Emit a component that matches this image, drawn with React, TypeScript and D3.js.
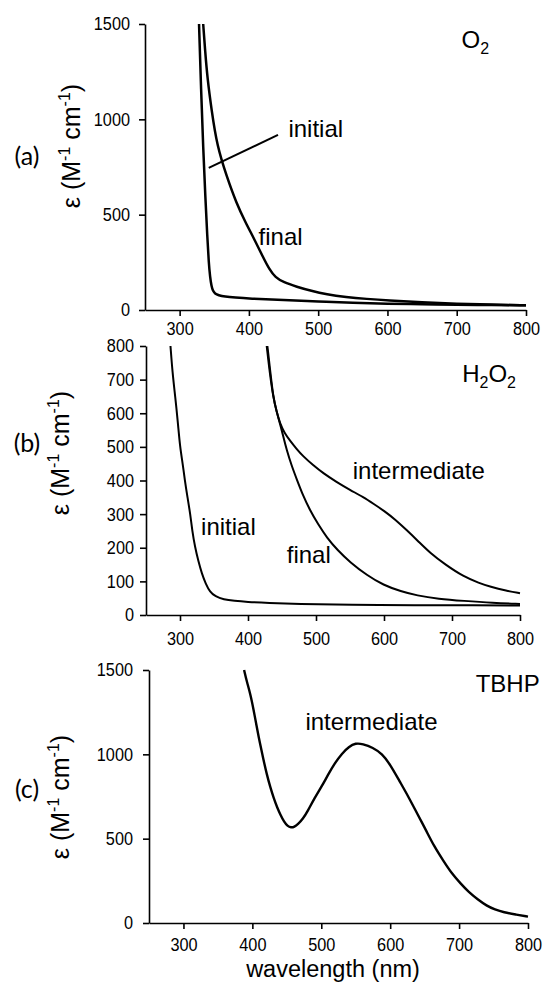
import React, { useEffect, useRef } from 'react';
import * as d3 from 'd3';

type Pt = [number, number];

// shared axis ticks
const wavelengthTicks = [300, 400, 500, 600, 700, 800];
const epsTicks1500 = [0, 500, 1000, 1500];
const epsTicks800 = [0, 100, 200, 300, 400, 500, 600, 700, 800];

// (a) O2 — [wavelength nm, epsilon]
const o2Initial: Pt[] = [
    [328, 1500], [331, 1150], [334, 850], [337, 600], [340, 380], [342, 250], [344, 170],
    [346, 125], [348, 100], [351, 86], [356, 77], [365, 70], [380, 65], [400, 60], [450, 52],
    [500, 45], [550, 38], [600, 33], [650, 30], [700, 28], [750, 26], [800, 25],
];
const o2Final: Pt[] = [
    [334, 1500], [337, 1350], [340, 1220], [346, 1050], [354, 860], [368, 700], [382, 560],
    [395, 460], [408, 370], [420, 280], [430, 210], [438, 172], [450, 145], [469, 122],
    [490, 100], [512, 82], [540, 68], [570, 58], [600, 50], [650, 40], [700, 33], [750, 28], [800, 25],
];
const o2Pointer: Pt[] = [[342, 745], [442, 918]];

// (b) H2O2
const h2o2Initial: Pt[] = [
    [286, 800], [289, 720], [293, 649], [297, 570], [300, 501], [304, 450], [307, 402],
    [311, 350], [315, 302], [318, 250], [322, 203], [327, 160], [332, 124], [338, 92],
    [344, 69], [352, 55], [364, 46], [380, 42], [398, 39], [430, 36], [472, 33], [550, 30],
    [650, 29], [720, 29], [800, 28],
];
const h2o2Final: Pt[] = [
    [427.5, 800], [432, 720], [437, 649], [442, 605], [447, 570], [452, 530], [457, 490],
    [464, 445], [472, 402], [481, 355], [491, 312], [503, 270], [516, 230], [532, 192],
    [550, 157], [575, 118], [599, 89], [625, 70], [648, 58], [680, 48], [717, 42], [760, 36], [800, 33],
];
const h2o2Intermediate: Pt[] = [
    [428.5, 800], [433, 720], [437, 649], [442, 605], [447, 570], [454, 540], [462, 518],
    [471, 495], [481, 472], [495, 447], [511, 421], [530, 396], [550, 372], [570, 350],
    [585, 330], [600, 310], [617, 283], [633, 253], [650, 220], [668, 184], [690, 150],
    [717, 114], [740, 95], [756, 84], [780, 72], [800, 65],
];

// (c) TBHP
const tbhpIntermediate: Pt[] = [
    [388, 1500], [392, 1430], [397, 1360], [402, 1260], [406, 1170], [411, 1065], [416, 970],
    [421, 880], [426, 805], [431, 740], [436, 685], [441, 640], [446, 600], [451, 575],
    [456, 565], [461, 570], [466, 585], [473, 615], [480, 660], [490, 740], [500, 805],
    [510, 880], [520, 950], [530, 1005], [540, 1045], [550, 1067], [560, 1062], [575, 1040],
    [588, 1004], [600, 940], [613, 845], [627, 745], [639, 650], [652, 550], [664, 453],
    [677, 370], [689, 295], [702, 235], [714, 183], [727, 140], [740, 102], [752, 80],
    [765, 63], [782, 50], [800, 38],
];

const SANS = "'Liberation Sans', Arial, sans-serif";
const TICK_SQUEEZE = 0.88;

const App = () => {
    const svgRef = useRef<SVGSVGElement>(null);

    useEffect(() => {
        const svg = d3.select(svgRef.current);
        svg.selectAll('*').remove();

        const panels = [
            {
                letter: '(a)', letterY: 165,
                left: 145, right: 526, top: 24, bottom: 310, yMax: 1500, yTicks: epsTicks1500,
                xPad: 6, yPad: 9, labelX: 80, labelY: 146,
                series: [o2Initial, o2Final], pointer: o2Pointer, width: 2.5,
                species: [['O', false], ['2', true]], speciesAt: [707, 1372],
                notes: [{ text: 'initial', at: [457, 909] }, { text: 'final', at: [414, 341] }],
            },
            {
                letter: '(b)', letterY: 452,
                left: 146, right: 520, top: 346, bottom: 615, yMax: 800, yTicks: epsTicks800,
                xPad: 11, yPad: 6, labelX: 69, labelY: 453,
                series: [h2o2Initial, h2o2Final, h2o2Intermediate], pointer: null, width: 2,
                species: [['H', false], ['2', true], ['O', false], ['2', true]], speciesAt: [715, 694],
                notes: [
                    { text: 'initial', at: [331, 238] },
                    { text: 'final', at: [457, 154] },
                    { text: 'intermediate', at: [554, 405] },
                ],
            },
            {
                letter: '(c)', letterY: 798,
                left: 149, right: 528, top: 670, bottom: 923, yMax: 1500, yTicks: epsTicks1500,
                xPad: 9, yPad: 10, labelX: 69, labelY: 797,
                series: [tbhpIntermediate], pointer: null, width: 2.4,
                species: [['TBHP', false]], speciesAt: [724, 1368],
                notes: [{ text: 'intermediate', at: [477, 1146] }],
            },
        ];

        panels.forEach(p => {
            const x = d3.scaleLinear().domain([250, 800]).range([p.left, p.right]);
            const y = d3.scaleLinear().domain([0, p.yMax]).range([p.bottom, p.top]);
            const g = svg.append('g');

            const xg = g.append('g')
                .attr('transform', `translate(0,${p.bottom})`)
                .call(d3.axisBottom(x).tickValues(wavelengthTicks).tickFormat(d3.format('d'))
                    .tickSize(6).tickSizeOuter(0).tickPadding(p.xPad));

            const yg = g.append('g')
                .attr('transform', `translate(${p.left},0)`)
                .call(d3.axisLeft(y).tickValues(p.yTicks).tickFormat(d3.format('d'))
                    .tickSize(6).tickSizeOuter(0).tickPadding(p.yPad));

            g.selectAll('.domain, .tick line').attr('stroke', '#000').attr('stroke-width', 1.6);
            g.selectAll('.tick text')
                .attr('fill', '#000')
                .style('font-family', SANS)
                .style('font-size', '18.5px');
            // the original's tick digits are narrow: squeeze them horizontally
            xg.selectAll('.tick text').attr('transform', `scale(${TICK_SQUEEZE},1)`);
            yg.selectAll('.tick text')
                .attr('transform', `scale(${TICK_SQUEEZE},1)`)
                .attr('x', -(6 + p.yPad) / TICK_SQUEEZE);

            const line = d3.line<Pt>()
                .x(d => x(d[0]))
                .y(d => y(d[1]))
                .curve(d3.curveBasis);

            p.series.forEach(s => {
                g.append('path')
                    .datum(s)
                    .attr('fill', 'none')
                    .attr('stroke', '#000')
                    .attr('stroke-width', p.width)
                    .attr('stroke-linejoin', 'round')
                    .attr('d', line);
            });

            if (p.pointer) {
                g.append('path')
                    .datum(p.pointer)
                    .attr('fill', 'none')
                    .attr('stroke', '#000')
                    .attr('stroke-width', 2)
                    .attr('d', d3.line<Pt>().x(d => x(d[0])).y(d => y(d[1])));
            }

            p.notes.forEach(n => {
                g.append('text')
                    .attr('x', x(n.at[0]))
                    .attr('y', y(n.at[1]))
                    .style('font-family', SANS)
                    .style('font-size', '24px')
                    .text(n.text);
            });

            const sp = g.append('text')
                .attr('x', x(p.speciesAt[0]))
                .attr('y', y(p.speciesAt[1]))
                .style('font-family', SANS)
                .style('font-size', '24px');
            let prevSub = false;
            p.species.forEach(([t, sub]) => {
                sp.append('tspan')
                    .attr('dy', (sub ? 6 : 0) - (prevSub ? 6 : 0))
                    .style('font-size', sub ? '16px' : '24px')
                    .text(t as string);
                prevSub = sub as boolean;
            });

            // y axis title with superscripts
            const yl = g.append('text')
                .attr('transform', `translate(${p.labelX},${p.labelY}) rotate(-90)`)
                .attr('text-anchor', 'middle')
                .style('font-family', SANS)
                .style('font-size', '25px');
            yl.append('tspan').text('ε (M');
            yl.append('tspan').attr('dy', -10).style('font-size', '16px').text('-1');
            yl.append('tspan').attr('dy', 10).text(' cm');
            yl.append('tspan').attr('dy', -10).style('font-size', '16px').text('-1');
            yl.append('tspan').attr('dy', 10).text(')');

            g.append('text')
                .attr('x', 27)
                .attr('y', p.letterY)
                .attr('text-anchor', 'middle')
                .style('font-family', "Lato, 'Open Sans', sans-serif")
                .style('font-size', '25px')
                .text(p.letter);
        });

        svg.append('text')
            .attr('x', 333)
            .attr('y', 977)
            .attr('text-anchor', 'middle')
            .style('font-family', SANS)
            .style('font-size', '23.5px')
            .text('wavelength (nm)');
    }, []);

    return (
        <svg
            ref={svgRef}
            width={545}
            height={983}
            style={{ position: 'absolute', left: 0, top: 0, background: '#fff' }}
        />
    );
};

export default App;
